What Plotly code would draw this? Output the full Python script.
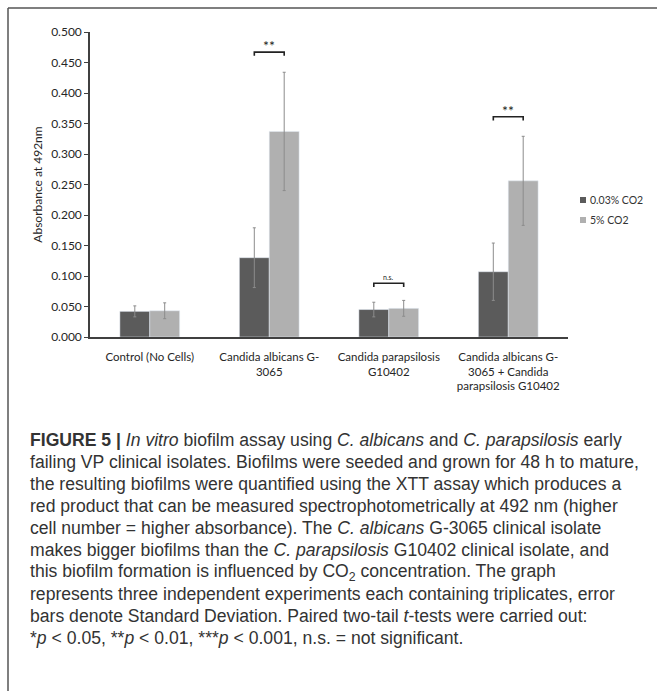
import plotly.graph_objects as go

categories = ["Control (No Cells)", "Candida albicans G-<br>3065", "Candida parapsilosis<br>G10402",
              "Candida albicans G-<br>3065 + Candida<br>parapsilosis G10402"]
series_names = ["0.03% CO2", "5% CO2"]
series_colors = ["#5b5b5b", "#b0b0b0"]
low_co2 = [0.042, 0.130, 0.045, 0.107]
low_co2_sd = [0.009, 0.049, 0.012, 0.047]
high_co2 = [0.043, 0.337, 0.047, 0.256]
high_co2_sd = [0.013, 0.097, 0.013, 0.073]
sig_labels = ["", "**", "n.s.", "**"]
sig_heights = [None, 0.467, 0.088, 0.361]
y_ticks = [0, 0.05, 0.10, 0.15, 0.20, 0.25, 0.30, 0.35, 0.40, 0.45, 0.50]
caption_lines = [
    "<b>FIGURE 5 |</b> <i>In vitro</i> biofilm assay using <i>C. albicans</i> and <i>C. parapsilosis</i> early",
    "failing VP clinical isolates. Biofilms were seeded and grown for 48 h to mature,",
    "the resulting biofilms were quantified using the XTT assay which produces a",
    "red product that can be measured spectrophotometrically at 492 nm (higher",
    "cell number = higher absorbance). The <i>C. albicans</i> G-3065 clinical isolate",
    "makes bigger biofilms than the <i>C. parapsilosis</i> G10402 clinical isolate, and",
    "this biofilm formation is influenced by CO<sub>2</sub> concentration. The graph",
    "represents three independent experiments each containing triplicates, error",
    "bars denote Standard Deviation. Paired two-tail <i>t</i>-tests were carried out:",
    "*<i>p</i> &lt; 0.05, **<i>p</i> &lt; 0.01, ***<i>p</i> &lt; 0.001, n.s. = not significant.",
]

xs = list(range(len(categories)))
W, H = 657, 691
L, R, T, B = 90, 568, 32, 337

fig = go.Figure()
fig.add_trace(go.Bar(x=xs, y=low_co2, name=series_names[0], marker_color=series_colors[0],
                     showlegend=False,
                     error_y=dict(type="data", array=low_co2_sd, color="#8c8c8c", thickness=1, width=1.5)))
fig.add_trace(go.Bar(x=xs, y=high_co2, name=series_names[1], marker_color=series_colors[1],
                     showlegend=False,
                     error_y=dict(type="data", array=high_co2_sd, color="#8c8c8c", thickness=1, width=1.5)))


def px_x(p):
    return (p - L) / (R - L)


def px_y(p):
    return (B - p) / (B - T)


shapes = []
annotations = []
for i, (lab, h) in enumerate(zip(sig_labels, sig_heights)):
    if h is None:
        continue
    x0, x1 = i - 0.125, i + 0.125
    tip = 0.006
    shapes.append(dict(type="path", xref="x", yref="y",
                       path=f"M {x0} {h - tip} L {x0} {h} L {x1} {h} L {x1} {h - tip}",
                       line=dict(color="#222222", width=1.6)))
    small = lab == "n.s."
    annotations.append(dict(x=i, y=h, xref="x", yref="y", text=lab, showarrow=False,
                            yanchor="bottom", yshift=0 if small else -4,
                            font=dict(family="Lato", size=7 if small else 14, color="#222222")))

# manual legend (small squares as in the reference)
for k, (nm, col) in enumerate(zip(series_names, series_colors)):
    cy = 200 + 20 * k
    shapes.append(dict(type="rect", xref="paper", yref="paper", x0=px_x(580), x1=px_x(586),
                       y0=px_y(cy + 3), y1=px_y(cy - 3), fillcolor=col, line=dict(width=0)))
    annotations.append(dict(x=px_x(588), y=px_y(cy), xref="paper", yref="paper", text=nm,
                            showarrow=False, xanchor="left", yanchor="middle",
                            font=dict(family="Lato", size=10.5, color="#333333")))

# frame lines (left and top)
shapes.append(dict(type="line", xref="paper", yref="paper", x0=px_x(8), x1=px_x(660),
                   y0=px_y(8), y1=px_y(8), line=dict(color="#555555", width=1.5)))
shapes.append(dict(type="line", xref="paper", yref="paper", x0=px_x(8), x1=px_x(8),
                   y0=px_y(8), y1=px_y(695), line=dict(color="#555555", width=1.5)))

for i, line in enumerate(caption_lines):
    annotations.append(dict(x=px_x(28), y=px_y(440 + 22 * i), xref="paper", yref="paper", text=line,
                            showarrow=False, xanchor="left", yanchor="middle", align="left",
                            font=dict(family="Liberation Sans", size=17.6, color="#333333")))

fig.update_layout(
    width=W, height=H,
    margin=dict(l=L, r=W - R, t=T, b=H - B),
    paper_bgcolor="white", plot_bgcolor="white",
    barmode="group", bargap=0.5, bargroupgap=0,
    showlegend=False,
    xaxis=dict(range=[-0.5, 3.5], tickvals=xs, ticktext=categories, showgrid=False,
               showline=True, linecolor="#404040", linewidth=1.5, ticks="", zeroline=False,
               ticklabelstandoff=8,
               tickfont=dict(family="Lato", size=11.5, color="#262626"), tickangle=0),
    yaxis=dict(range=[0, 0.5], tickvals=y_ticks, tickformat=".3f", showgrid=False,
               showline=True, linecolor="#404040", linewidth=1.5, ticks="outside", ticklen=4,
               tickcolor="#404040", zeroline=False,
               tickfont=dict(family="Lato", size=12, color="#262626"),
               title=dict(text="Absorbance at 492nm", standoff=6,
                          font=dict(family="Lato", size=12, color="#262626"))),
    shapes=shapes, annotations=annotations,
)

fig.write_html("out.html", post_script="document.body.style.margin='0';",
               config={"displayModeBar": False})
